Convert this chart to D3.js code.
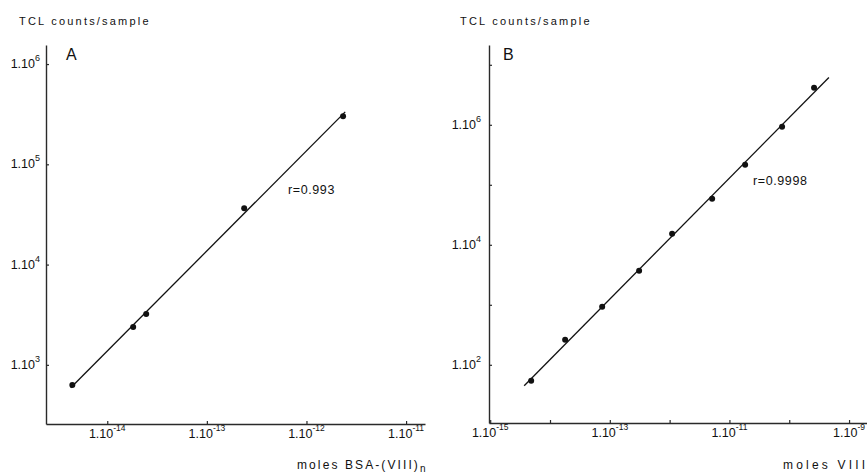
<!DOCTYPE html>
<html>
<head>
<meta charset="utf-8">
<script src="https://cdn.jsdelivr.net/npm/d3@7"></script>
<style>
  body { margin: 0; background: #fff; }
  text { font-family: "Liberation Sans", Arial, sans-serif; fill: #111; }
</style>
</head>
<body>
<svg width="867" height="476"></svg>
<script>
// panel A: moles BSA-(VIII)n vs TCL counts/sample
const molesA = [4.46e-15, 1.82e-14, 2.46e-14, 2.37e-13, 2.33e-12]
const countsA = [631, 2390, 3210, 36500, 301000]
const fitRangeA = [4.3e-15, 2.45e-12]
const xTicksA = [1e-14, 1e-13, 1e-12, 1e-11]
const xLabelsA = [1e-14, 1e-13, 1e-12, 1e-11]
const yTicksA = [1e3, 1e4, 1e5, 1e6]
const yLabelsA = [1e3, 1e4, 1e5, 1e6]

// panel B: moles VIII vs TCL counts/sample
const molesB = [4.84e-15, 1.79e-14, 7.45e-14, 3.09e-13, 1.10e-12, 5.14e-12, 1.83e-11, 7.59e-11, 2.60e-10]
const countsB = [54, 261, 926, 3690, 15250, 58400, 215000, 926000, 4140000]
const fitRangeB = [3.7e-15, 4.6e-10]
const xTicksB = [1e-15, 1e-14, 1e-13, 1e-12, 1e-11, 1e-10, 1e-9]
const xLabelsB = [1e-15, 1e-13, 1e-11, 1e-9]
const yTicksB = [1e2, 1e3, 1e4, 1e5, 1e6, 1e7]
const yLabelsB = [1e2, 1e4, 1e6]

const svg = d3.select('svg')

function fitLine(xs, ys) {
  const lx = xs.map(Math.log10)
  const ly = ys.map(Math.log10)
  const mx = d3.mean(lx)
  const my = d3.mean(ly)
  const slope = d3.sum(lx, (d, i) => (d - mx) * (ly[i] - my)) / d3.sum(lx, d => (d - mx) ** 2)
  return x => Math.pow(10, my + slope * (Math.log10(x) - mx))
}

function expLabel(sel, v, size, sup) {
  sel.append('tspan').text('1.10')
  sel.append('tspan')
    .attr('dy', -sup)
    .attr('font-size', size)
    .text(Math.round(Math.log10(v)))
}

function drawPanel(cfg) {
  const g = svg.append('g')

  const x = d3.scaleLog().domain(cfg.xDomain).range([cfg.left, cfg.right])
  const y = d3.scaleLog().domain(cfg.yDomain).range([cfg.bottom, cfg.top])

  const axisStyle = (a) => {
    a.select('.domain').attr('stroke', '#2a2a2a').attr('stroke-width', 1.4)
    a.selectAll('.tick line').attr('stroke', '#2a2a2a').attr('stroke-width', 1.2)
  }

  g.append('g')
    .attr('transform', `translate(0,${cfg.bottom})`)
    .call(d3.axisBottom(x).tickValues(cfg.xTicks).tickSize(-3).tickSizeOuter(0).tickFormat(''))
    .call(axisStyle)

  g.append('g')
    .attr('transform', `translate(${cfg.left},0)`)
    .call(d3.axisLeft(y).tickValues(cfg.yTicks).tickSize(-3).tickSizeOuter(0).tickFormat(''))
    .call(axisStyle)

  // tick labels
  cfg.xLabels.forEach(v => {
    const t = g.append('text')
      .attr('x', x(v))
      .attr('y', cfg.bottom + 14)
      .attr('text-anchor', 'middle')
      .attr('font-size', 12.5)
    expLabel(t, v, 8.5, 7)
  })

  cfg.yLabels.forEach(v => {
    const t = g.append('text')
      .attr('x', cfg.left - cfg.yLabelGap)
      .attr('y', y(v) + 4)
      .attr('text-anchor', 'end')
      .attr('font-size', 12.5)
    expLabel(t, v, 9, 7)
  })

  // regression line
  const f = fitLine(cfg.xs, cfg.ys)
  g.append('line')
    .attr('x1', x(cfg.fitRange[0]))
    .attr('y1', y(f(cfg.fitRange[0])))
    .attr('x2', x(cfg.fitRange[1]))
    .attr('y2', y(f(cfg.fitRange[1])))
    .attr('stroke', '#111')
    .attr('stroke-width', 1.3)

  g.selectAll('circle')
    .data(cfg.xs.map((d, i) => ({x: d, y: cfg.ys[i]})))
    .join('circle')
    .attr('cx', d => x(d.x))
    .attr('cy', d => y(d.y))
    .attr('r', 3)
    .attr('fill', '#111')

  g.append('text')
    .attr('x', cfg.titleX)
    .attr('y', 25)
    .attr('font-size', 11)
    .attr('letter-spacing', 2.2)
    .text('TCL counts/sample')

  g.append('text')
    .attr('x', cfg.left + cfg.letterDx)
    .attr('y', 60)
    .attr('font-size', 16)
    .text(cfg.letter)

  g.append('text')
    .attr('x', cfg.rX)
    .attr('y', cfg.rY)
    .attr('font-size', 12.5)
    .attr('letter-spacing', 0.6)
    .text(cfg.rText)

  const xl = g.append('text')
    .attr('x', cfg.xLabelX)
    .attr('y', 469)
    .attr('font-size', 12)
    .attr('letter-spacing', cfg.xLabelSpacing)
    .text(cfg.xLabel)
  if (cfg.xLabelSub) {
    xl.append('tspan').attr('dy', 2.5).attr('font-size', 10).text(cfg.xLabelSub)
  }
}

drawPanel({
  xs: molesA, ys: countsA, fitRange: fitRangeA,
  xTicks: xTicksA, xLabels: xLabelsA, yTicks: yTicksA, yLabels: yLabelsA,
  xDomain: [Math.pow(10, -14.615), Math.pow(10, -10.81)],
  yDomain: [Math.pow(10, 2.41), Math.pow(10, 6.19)],
  left: 46, right: 425, top: 45, bottom: 424,
  yLabelGap: 6, titleX: 19, letter: 'A', letterDx: 20,
  rText: 'r=0.993', rX: 288, rY: 194,
  xLabel: 'moles BSA-(VIII)', xLabelSub: 'n', xLabelX: 297, xLabelSpacing: 2.1
})

drawPanel({
  xs: molesB, ys: countsB, fitRange: fitRangeB,
  xTicks: xTicksB, xLabels: xLabelsB, yTicks: yTicksB, yLabels: yLabelsB,
  xDomain: [Math.pow(10, -15.02), Math.pow(10, -8.7)],
  yDomain: [Math.pow(10, 1.03), Math.pow(10, 7.33)],
  left: 489, right: 867, top: 45, bottom: 423,
  yLabelGap: 8, titleX: 460, letter: 'B', letterDx: 14,
  rText: 'r=0.9998', rX: 753, rY: 185,
  xLabel: 'moles VIII', xLabelSub: null, xLabelX: 783, xLabelSpacing: 3.2
})
</script>
</body>
</html>
